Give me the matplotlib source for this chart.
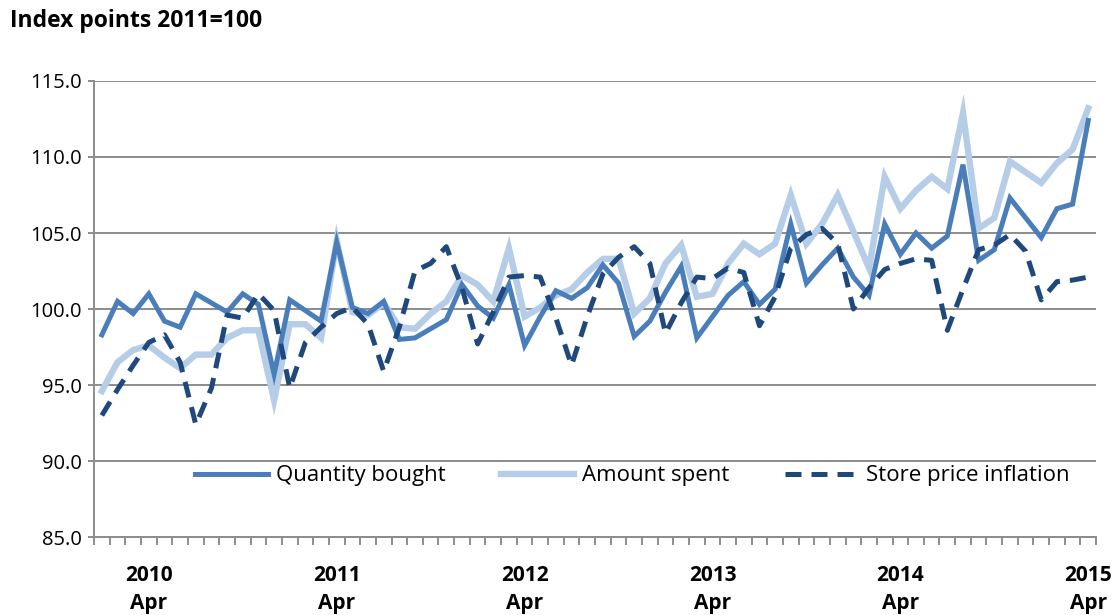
"""
plot.py
----------------------------------------
Retail sales index chart: quantity bought, amount spent
and store price inflation, Jan 2010 - Apr 2015 (2011=100).
----------------------------------------
"""

import matplotlib
import matplotlib.pyplot as plt
import matplotlib.transforms as mtransforms
import numpy as np
import pandas as pd
from matplotlib.ticker import FixedLocator, FormatStrFormatter

matplotlib.use("Agg")

plt.rcParams["font.family"] = ["Open Sans", "DejaVu Sans"]

# monthly categories, Jan 2010 .. Apr 2015
months = pd.date_range("2010-01-01", periods=64, freq="MS")

quantity_bought = [
    98.3, 100.5, 99.7, 101.0, 99.2, 98.8, 101.0, 100.4, 99.8, 101.0, 100.3, 95.7,
    100.6, 99.9, 99.2, 104.4, 100.1, 99.7, 100.5, 98.0, 98.1, 98.7, 99.3, 101.6,
    100.2, 99.4, 101.6, 97.6, 99.5, 101.2, 100.7, 101.4, 102.9, 101.7, 98.2, 99.2,
    101.1, 102.8, 98.1, 99.5, 100.9, 101.8, 100.3, 101.3, 105.6, 101.7, 102.9, 104.0,
    102.1, 100.9, 105.6, 103.6, 105.0, 104.0, 104.8, 109.5, 103.2, 103.9, 107.3, 106.0,
    104.7, 106.6, 106.9, 112.4,
]
amount_spent = [
    94.6, 96.5, 97.3, 97.6, 96.8, 96.1, 97.0, 97.0, 98.1, 98.6, 98.6, 94.0,
    99.0, 99.0, 98.1, 104.5, 99.8, 99.6, 100.4, 98.8, 98.7, 99.7, 100.5, 102.2,
    101.6, 100.5, 104.0, 99.5, 100.1, 100.9, 101.3, 102.4, 103.3, 103.3, 99.7, 100.7,
    103.0, 104.2, 100.8, 101.0, 103.0, 104.3, 103.6, 104.3, 107.5, 104.3, 105.6, 107.5,
    105.1, 102.7, 108.7, 106.6, 107.8, 108.7, 107.9, 112.9, 105.3, 106.0, 109.7, 109.0,
    108.3, 109.6, 110.5, 113.2,
]
store_price_inflation = [
    93.0, 94.7, 96.3, 97.8, 98.3, 96.5, 92.4, 94.8, 99.6, 99.4, 101.0, 99.9,
    94.8, 97.8, 98.8, 99.7, 100.1, 99.0, 95.9, 98.8, 102.5, 103.0, 104.1, 101.4,
    97.7, 99.8, 102.1, 102.2, 102.1, 99.4, 96.3, 99.5, 102.3, 103.4, 104.1, 103.0,
    98.4, 100.4, 102.1, 102.0, 102.7, 102.4, 98.9, 100.8, 104.0, 104.9, 105.3, 104.3,
    100.0, 101.4, 102.6, 103.0, 103.3, 103.2, 98.6, 101.3, 103.9, 104.2, 104.9, 103.8,
    100.6, 101.8, 101.9, 102.1,
]

y_ticks = [85, 90, 95, 100, 105, 110, 115]

GRID = "#8c8c8c"

fig = plt.figure(figsize=(11.14, 6.15), dpi=100)
ax = fig.add_axes([0.0844, 0.1268, 0.8995, 0.7415])

x = np.arange(len(months))

# series
ax.plot(x, amount_spent, color="#b6cde8", lw=4.6, solid_joinstyle="miter",
        label="Amount spent", zorder=3)
ax.plot(x, quantity_bought, color="#4a7ebb", lw=3.6, solid_joinstyle="miter",
        label="Quantity bought", zorder=4)
ax.plot(x, store_price_inflation, color="#1f497d", lw=3.6, ls=(0, (3.2, 2.0)),
        label="Store price inflation", zorder=5)

# axes
ax.set_xlim(-0.5, len(months) - 0.5)
ax.set_ylim(85, 115)
ax.yaxis.set_major_locator(FixedLocator(y_ticks))
ax.yaxis.set_major_formatter(FormatStrFormatter("%.1f"))
ax.grid(axis="y", color=GRID, lw=1.4)
ax.set_axisbelow(True)

for side in ["top", "right"]:
    ax.spines[side].set_visible(False)
for side in ["left", "bottom"]:
    ax.spines[side].set_color(GRID)
    ax.spines[side].set_linewidth(1.4)

ax.tick_params(axis="y", length=4, width=1.4, color=GRID, labelsize=14.5, pad=5)

# x: tick marks between months, year under each April, "Apr" below it
apr_idx = [i for i, m in enumerate(months) if m.month == 4]
ax.set_xticks(apr_idx)
ax.set_xticklabels([str(months[i].year) for i in apr_idx],
                   fontsize=15, fontweight="bold")
ax.set_xticks(np.arange(-0.5, len(months)), minor=True)
ax.tick_params(axis="x", which="major", length=0, pad=20)
ax.tick_params(axis="x", which="minor", length=6, width=1.4, color=GRID)

trans = mtransforms.blended_transform_factory(ax.transData, fig.transFigure)
for i in apr_idx:
    ax.text(i, (615 - 604) / 615, months[i].strftime("%b"), transform=trans,
            ha="center", va="center", fontsize=15, fontweight="bold",
            clip_on=False)

# legend (order as in reference)
handles, labels = ax.get_legend_handles_labels()
order = [1, 0, 2]
ax.legend([handles[i] for i in order], [labels[i] for i in order],
          loc="center", bbox_to_anchor=(0.537, 0.134), ncol=3, frameon=False,
          fontsize=16, handlelength=3.3, columnspacing=2.5, handletextpad=0.35)

fig.text(0.009, 0.966, "Index points 2011=100", fontsize=16.5,
         fontweight="bold", va="center", ha="left")

fig.savefig("out.png", dpi=100)
plt.close(fig)
